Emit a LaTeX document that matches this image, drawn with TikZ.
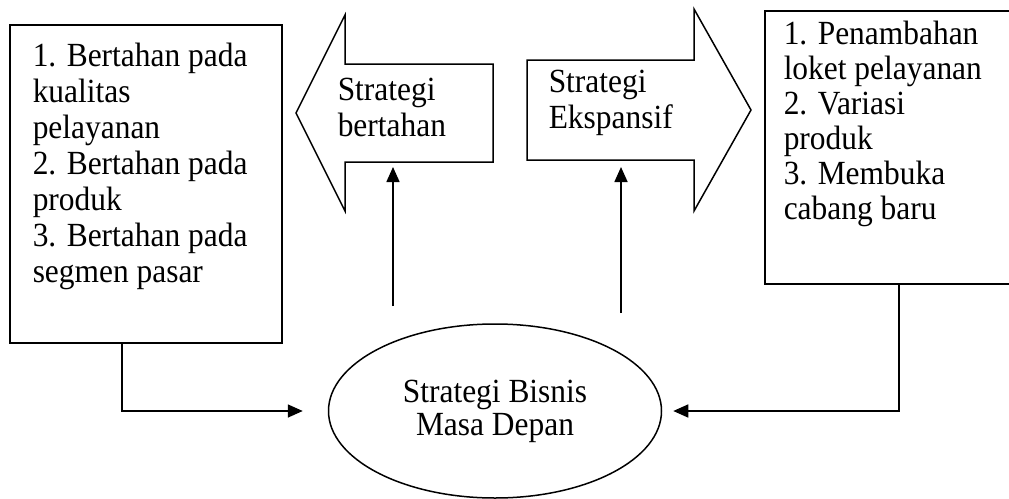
\documentclass[tikz,border=0pt]{standalone}
\usepackage{fontspec}
\setmainfont{Liberation Serif}[FakeStretch=0.93]
\usetikzlibrary{arrows.meta,shapes.geometric}

\begin{document}
\begin{tikzpicture}[x=1pt, y=-1pt, line width=1.5pt,
    txt/.style={align=left, inner sep=0pt, anchor=north west,
      font=\fontsize{33.8}{36}\selectfont},
    conn/.style={-{Triangle[length=15pt,width=13pt]}, line width=1.6pt}]
  \useasboundingbox (0,0) rectangle (1009,498);

  % Corners of the two block arrows
  \coordinate (hold_tip) at (296,113);
  \coordinate (hold_top) at (345,15);
  \coordinate (hold_bot) at (345,211);
  \coordinate (hold_end) at (493,64);
  \coordinate (grow_end) at (527,60);
  \coordinate (grow_top) at (694,9);
  \coordinate (grow_bot) at (694,211);
  \coordinate (grow_tip) at (751,110);

  % Block arrows
  \draw[line join=miter] (hold_tip) -- (hold_top) -- (345,64) -- (hold_end)
    -- (493,162) -- (345,162) -- (hold_bot) -- cycle;
  \draw[line join=miter] (grow_end) -- (694,60) -- (grow_top) -- (grow_tip)
    -- (grow_bot) -- (694,160) -- (527,160) -- cycle;
  \node[txt] (hold_txt) at (337,77) {Strategi\\bertahan};
  \node[txt] (grow_txt) at (548,69) {Strategi\\Ekspansif};

  % Side boxes
  \node[draw, inner sep=0pt, anchor=north west, minimum width=272pt,
    minimum height=318pt] (leftbox) at (9,24) {};
  \node[txt] (left_txt) at (32,42) {1. Bertahan pada\\kualitas\\pelayanan\\
    2. Bertahan pada\\produk\\3. Bertahan pada\\segmen pasar};
  \node[draw, inner sep=0pt, anchor=north west, minimum width=262pt,
    minimum height=273pt] (rightbox) at (764,10) {};
  \node[txt, font=\fontsize{33.8}{35}\selectfont] (right_txt) at (783,20)
    {1. Penambahan\\loket pelayanan\\2. Variasi\\produk\\3. Membuka\\cabang baru};

  % Central ellipse
  \node[draw, ellipse, inner sep=0pt, minimum width=333pt, minimum height=174pt,
    align=center, font=\fontsize{33.8}{33}\selectfont] (future) at (495,411)
    {Strategi Bisnis\\Masa Depan};

  % Connectors
  \coordinate (hold_base) at (393,306);
  \coordinate (hold_in) at (393,167);
  \coordinate (grow_base) at (621,313);
  \coordinate (grow_in) at (621,167);
  \draw[conn] (hold_base) -- (hold_in);
  \draw[conn] (grow_base) -- (grow_in);
  \draw[conn, shorten >=25pt] ([xshift=113pt]leftbox.south west) |- (future.west);
  \draw[conn, shorten >=11pt] ([xshift=135pt]rightbox.south west) |- (future.east);
\end{tikzpicture}
\end{document}
